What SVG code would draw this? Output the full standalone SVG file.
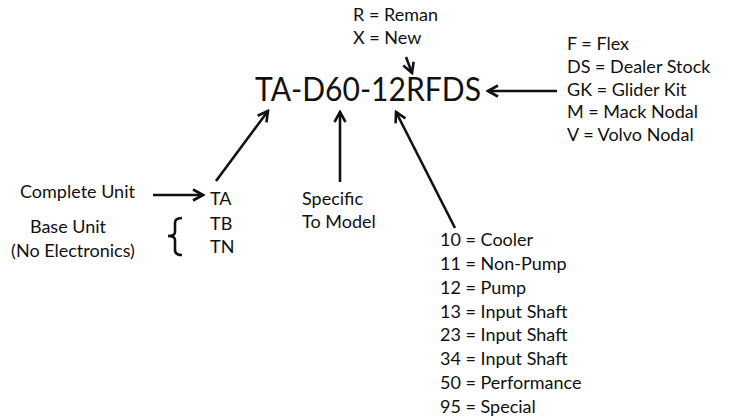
<svg xmlns="http://www.w3.org/2000/svg" width="729" height="418" viewBox="0 0 729 418">
<defs>
<marker id="ah" viewBox="0 0 14 14" refX="12" refY="7" markerWidth="14" markerHeight="14" markerUnits="userSpaceOnUse" orient="auto">
<path d="M2,1.5 L12,7 L2,12.5" fill="none" stroke="#111" stroke-width="2.6"/>
</marker>
<style>
text{font-family:Lato,"Open Sans","Liberation Sans",sans-serif;fill:#111;font-size:18px}
.big{font-size:33px}
.c{stroke:#111;stroke-width:2.6;fill:none}
</style>
</defs>
<rect width="729" height="418" fill="#fff"/>
<g id="code"><text class="big" x="255" y="101" textLength="226" lengthAdjust="spacingAndGlyphs">TA-D60-12RFDS</text></g>
<g id="suffix1">
<text x="353" y="21">R = Reman</text>
<text x="353" y="44">X = New</text>
</g>
<g id="suffix2">
<text x="567" y="50">F = Flex</text>
<text x="567" y="73">DS = Dealer Stock</text>
<text x="567" y="96">GK = Glider Kit</text>
<text x="567" y="118">M = Mack Nodal</text>
<text x="567" y="141">V = Volvo Nodal</text>
</g>
<g id="prefix">
<text x="20" y="198">Complete Unit</text>
<text x="68" y="233" text-anchor="middle">Base Unit</text>
<text x="73" y="257" text-anchor="middle">(No Electronics)</text>
<text x="210" y="205">TA</text>
<text x="210" y="230">TB</text>
<text x="210" y="253">TN</text>
<path class="c" d="M182,218 Q175,218 175,223 L175,232 Q175,236 168,236 Q175,236 175,240 L175,250 Q175,255 182,255" stroke-width="2"/>
</g>
<g id="model">
<text x="302" y="205">Specific</text>
<text x="302" y="228">To Model</text>
</g>
<g id="numbers">
<text x="440" y="246">10 = Cooler</text>
<text x="440" y="270">11 = Non-Pump</text>
<text x="440" y="294">12 = Pump</text>
<text x="440" y="318">13 = Input Shaft</text>
<text x="440" y="341">23 = Input Shaft</text>
<text x="440" y="365">34 = Input Shaft</text>
<text x="440" y="389">50 = Performance</text>
<text x="440" y="413">95 = Special</text>
</g>
<g id="connectors">
<line class="c" x1="406" y1="57" x2="412" y2="73" marker-end="url(#ah)"/>
<line class="c" x1="557" y1="91" x2="488" y2="91" marker-end="url(#ah)"/>
<line class="c" x1="153" y1="195" x2="203" y2="195" marker-end="url(#ah)"/>
<line class="c" x1="216" y1="181" x2="268" y2="111" marker-end="url(#ah)"/>
<line class="c" x1="340" y1="182" x2="340" y2="112" marker-end="url(#ah)"/>
<line class="c" x1="455" y1="228" x2="396" y2="112" marker-end="url(#ah)"/>
</g>
</svg>
